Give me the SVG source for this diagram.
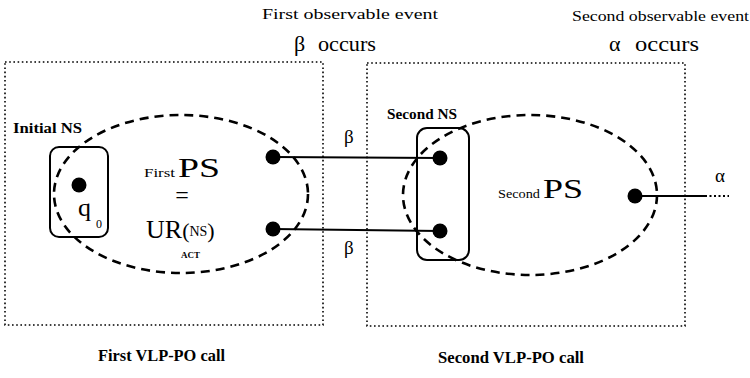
<svg xmlns="http://www.w3.org/2000/svg" width="750" height="378" viewBox="0 0 750 378">
  <style>
    text { font-family: "Liberation Serif", "Times New Roman", serif; fill: #000; }
    .bold { font-weight: bold; }
    .frame { fill: none; stroke: #000; stroke-width: 1.6; stroke-dasharray: 1.6 2.6; }
    .ps { fill: none; stroke: #000; stroke-width: 2.6; stroke-dasharray: 9 6; }
    .ns { fill: none; stroke: #000; stroke-width: 2; }
    .edge { fill: none; stroke: #000; stroke-width: 2; }
    .state { fill: #000; }
  </style>

  <!-- event captions -->
  <g id="event1">
    <text x="262" y="19" font-size="15" textLength="176" lengthAdjust="spacingAndGlyphs">First observable event</text>
    <text x="294" y="51" font-size="22">β</text>
    <text x="318" y="51" font-size="22" textLength="58" lengthAdjust="spacingAndGlyphs">occurs</text>
  </g>
  <g id="event2">
    <text x="572" y="21" font-size="15" textLength="177" lengthAdjust="spacingAndGlyphs">Second observable event</text>
    <text x="609" y="51" font-size="22">α</text>
    <text x="635" y="51" font-size="22" textLength="64" lengthAdjust="spacingAndGlyphs">occurs</text>
  </g>

  <!-- first call -->
  <g id="call1">
    <rect class="frame" x="5" y="62" width="318" height="263"/>
    <text class="bold" x="98" y="361" font-size="16.5" textLength="127" lengthAdjust="spacingAndGlyphs">First VLP-PO call</text>
  </g>
  <g id="ps1">
    <ellipse class="ps" cx="181" cy="194" rx="127" ry="79"/>
    <text x="144" y="177" font-size="13" textLength="31" lengthAdjust="spacingAndGlyphs">First</text>
    <text x="178" y="177" font-size="28" textLength="42" lengthAdjust="spacingAndGlyphs">PS</text>
    <text x="182" y="203" font-size="24" text-anchor="middle">=</text>
    <!-- UR(NS) with subscript ACT -->
    <text x="146" y="238" font-size="26">UR<tspan font-size="22">(</tspan><tspan font-size="14" dy="-2">NS</tspan><tspan font-size="22" dy="2">)</tspan></text>
    <text x="181" y="258" font-size="9" class="bold" textLength="19" lengthAdjust="spacingAndGlyphs">ACT</text>
  </g>
  <g id="ns1">
    <rect class="ns" x="50" y="147" width="58" height="90" rx="9"/>
    <text class="bold" x="13" y="133" font-size="15" textLength="69" lengthAdjust="spacingAndGlyphs">Initial NS</text>
    <circle class="state" cx="79" cy="185" r="7.5"/>
    <text x="78" y="216" font-size="26">q</text>
    <text x="96" y="228" font-size="12">0</text>
  </g>
  <g id="s1a"><circle class="state" cx="273" cy="157" r="7.5"/></g>
  <g id="s1b"><circle class="state" cx="273" cy="229" r="7.5"/></g>

  <!-- second call -->
  <g id="call2">
    <rect class="frame" x="367" y="63" width="318" height="263"/>
    <text class="bold" x="438" y="363" font-size="16.5" textLength="146" lengthAdjust="spacingAndGlyphs">Second VLP-PO call</text>
  </g>
  <g id="ps2">
    <ellipse class="ps" cx="530" cy="195" rx="127" ry="80"/>
    <text x="498" y="198" font-size="13" textLength="42" lengthAdjust="spacingAndGlyphs">Second</text>
    <text x="543" y="198" font-size="28" textLength="40" lengthAdjust="spacingAndGlyphs">PS</text>
  </g>
  <g id="ns2">
    <rect class="ns" x="417" y="128" width="52" height="132" rx="10"/>
    <text class="bold" x="387" y="119" font-size="15" textLength="70" lengthAdjust="spacingAndGlyphs">Second NS</text>
    <circle class="state" cx="440" cy="158" r="7.5"/>
    <circle class="state" cx="440" cy="231" r="7.5"/>
  </g>
  <g id="s2"><circle class="state" cx="635" cy="196" r="7.5"/></g>

  <!-- transitions -->
  <g id="connectors">
    <line class="edge" x1="273" y1="157" x2="440" y2="158"/>
    <line class="edge" x1="273" y1="229" x2="440" y2="231"/>
    <line class="edge" x1="635" y1="196" x2="705" y2="196"/>
    <line x1="705" y1="196" x2="729" y2="196" stroke="#000" stroke-width="2" stroke-dasharray="2 2.5"/>
    <text x="344" y="143" font-size="19">β</text>
    <text x="344" y="254" font-size="19">β</text>
    <text x="715" y="182" font-size="19">α</text>
  </g>
</svg>
